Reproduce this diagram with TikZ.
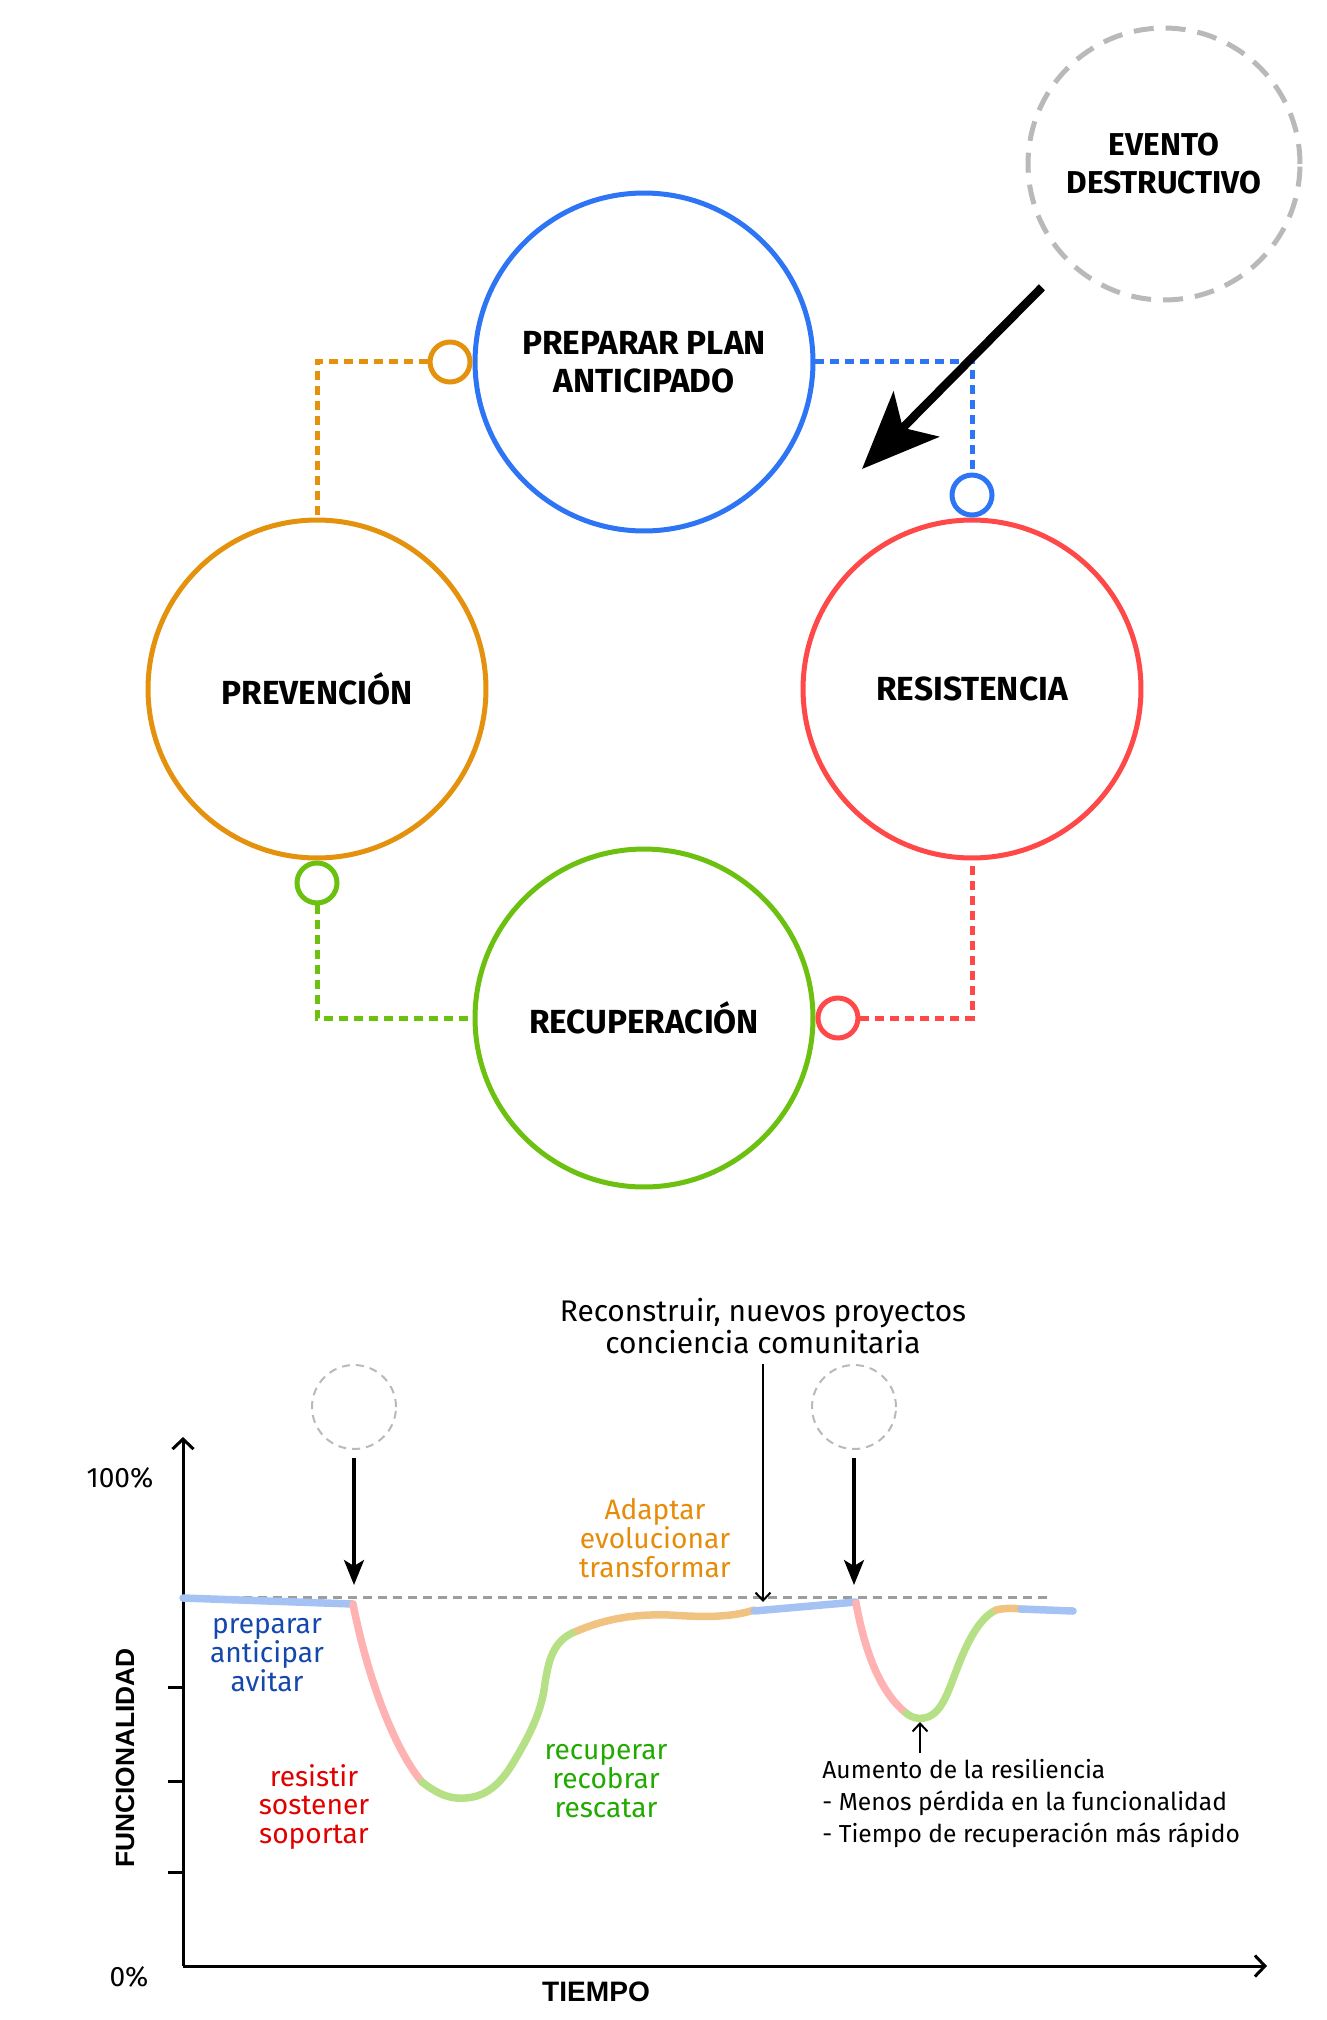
\documentclass[tikz,border=0pt]{standalone}
\usepackage{fontspec}
\setmainfont{Fira Sans}
\newfontfamily\axisfont{Liberation Sans}
\usetikzlibrary{arrows.meta,positioning,calc}

\definecolor{phblue}{RGB}{46,117,245}
\definecolor{phred}{RGB}{255,72,72}
\definecolor{phgreen}{RGB}{108,192,16}
\definecolor{phorange}{RGB}{228,146,14}
\definecolor{ghostgray}{RGB}{185,185,185}
\definecolor{pblue}{RGB}{164,194,244}
\definecolor{pred}{RGB}{255,178,178}
\definecolor{pgreen}{RGB}{182,224,134}
\definecolor{porange}{RGB}{240,196,128}
\definecolor{tblue}{RGB}{21,72,172}
\definecolor{tred}{RGB}{224,0,0}
\definecolor{tgreen}{RGB}{34,170,0}
\definecolor{torange}{RGB}{230,140,10}

\begin{document}
\begin{tikzpicture}[
    x=0.02cm, y=-0.02cm,
    every node/.style={inner sep=0pt},
    phase/.style={circle, draw=#1, line width=0.1cm, minimum size=6.76cm, align=center,
      font=\fontsize{19}{21.6}\selectfont\bfseries},
    knob/.style={circle, draw=#1, line width=0.1cm, minimum size=0.8cm},
    link/.style={#1, line width=0.1cm, dash pattern=on 0.17cm off 0.13cm},
    ghost/.style={circle, draw=ghostgray, line width=0.04cm, dash pattern=on 0.16cm off 0.12cm, minimum size=1.68cm},
    trace/.style={#1, line width=0.15cm, line cap=round},
    tag/.style={align=center, text=#1, font=\fontsize{16}{16.5}\selectfont},
    hit/.style={-{Stealth[length=0.5cm,width=0.4cm,inset=0.12cm]}, line width=0.07cm},
    pointer/.style={-{Straight Barb[length=0.16cm,width=0.3cm]}, line width=0.04cm},
    axis/.style={-{Straight Barb[length=0.2cm,width=0.42cm]}, line width=0.06cm}
  ]
  \useasboundingbox (0,0) rectangle (1326,2020);

  % cycle
  \node[phase=phblue] (prep) at (644,362) {PREPARAR PLAN\\ANTICIPADO};
  \node[phase=phorange] (prev) at (317,689) {PREVENCIÓN};
  \node[phase=phred] (resi) at (972,689) {RESISTENCIA};
  \node[phase=phgreen] (recu) at (644,1018) {RECUPERACIÓN};

  \node[knob=phorange, anchor=east] (ko) at (prep.west) {};
  \node[knob=phblue, anchor=south] (kb) at (resi.north) {};
  \node[knob=phred, anchor=west] (kr) at (recu.east) {};
  \node[knob=phgreen, anchor=north] (kg) at (prev.south) {};

  \draw[link=phorange] (ko.west) -| (prev.north);
  \draw[link=phblue] (prep.east) -| (kb.north);
  \draw[link=phred] (kr.east) -| (resi.south);
  \draw[link=phgreen] (kg.south) |- (recu.west);

  \node[circle, draw=ghostgray, line width=0.1cm, dash pattern=on 0.4cm off 0.24cm,
    minimum size=5.44cm, align=center, font=\fontsize{18}{21.6}\selectfont\bfseries]
    (event) at (1164,164) {EVENTO\\DESTRUCTIVO};
  \coordinate (impact) at (862,469);
  \draw[line width=0.17cm, -{Stealth[length=1.54cm,width=1.28cm,inset=0.38cm]},
    shorten <=0.7cm] (event) -- (impact);

  % chart
  \coordinate (o) at (183,1966);
  \coordinate (ytop) at (183,1437);
  \coordinate (xend) at (1267,1966);
  \draw[axis] (o) -- (ytop);
  \draw[axis] (o) -- (xend);
  \foreach \y in {1687,1781,1872}
    \draw[line width=0.06cm] (168,\y) -- (183,\y);
  \node[font=\fontsize{16}{16}\selectfont] (full) at (120,1478) {100\%};
  \node[font=\fontsize{16}{16}\selectfont] (zero) at (129,1977) {0\%};
  \node[rotate=90, font=\axisfont\bfseries\fontsize{15}{15}\selectfont] (func) at (125,1758) {FUNCIONALIDAD};
  \node[font=\axisfont\bfseries\fontsize{16}{16}\selectfont] (time) at (596,1992) {TIEMPO};

  \draw[ghostgray!85!black, line width=0.06cm, dash pattern=on 0.18cm off 0.12cm] (183,1597) -- (1052,1597);

  \draw[trace=pblue] (183,1598) -- (353,1604);
  \draw[trace=pred] (353,1604) .. controls (368,1680) and (395,1750) .. (422,1782);
  \draw[trace=pgreen] (422,1782) .. controls (440,1796) and (452,1799) .. (465,1798)
    .. controls (485,1797) and (500,1785) .. (513,1763)
    .. controls (528,1738) and (540,1715) .. (544,1690)
    .. controls (548,1662) and (552,1640) .. (577,1631);
  \draw[trace=porange] (577,1631) .. controls (610,1617) and (640,1614) .. (670,1615)
    .. controls (700,1617) and (730,1618) .. (754,1610);
  \draw[trace=pblue] (754,1611) -- (856,1602);
  \draw[trace=pred] (856,1603) .. controls (865,1652) and (880,1692) .. (906,1713);
  \draw[trace=pgreen] (906,1713) .. controls (912,1718) and (918,1719) .. (924,1718)
    .. controls (938,1716) and (945,1700) .. (952,1682)
    .. controls (962,1655) and (975,1620) .. (996,1610);
  \draw[trace=porange] (996,1610) .. controls (1004,1608) and (1013,1608) .. (1021,1609);
  \draw[trace=pblue] (1021,1609) -- (1073,1611);

  \node[ghost] (ev1) at (354,1407) {};
  \node[ghost] (ev2) at (854,1407) {};
  \coordinate (drop1) at (354,1585);
  \coordinate (drop2) at (854,1585);
  \draw[hit, shorten <=0.16cm] (ev1) -- (drop1);
  \draw[hit, shorten <=0.16cm] (ev2) -- (drop2);

  \node[align=center, font=\fontsize{17}{16.3}\selectfont] (rebuild) at (763,1326)
    {Reconstruir, nuevos proyectos\\conciencia comunitaria};
  \coordinate (join) at (763,1602);
  \draw[pointer, shorten <=0.2cm] (rebuild.south) -- (join);

  \node[tag=tblue] (prepare) at (267,1655) {preparar\\anticipar\\avitar};
  \node[tag=tred] (resist) at (314,1807) {resistir\\sostener\\soportar};
  \node[tag=tgreen] (recover) at (606,1781) {recuperar\\recobrar\\rescatar};
  \node[tag=torange] (adapt) at (655,1538) {Adaptar\\evolucionar\\transformar};

  \node[anchor=north west, align=left, font=\fontsize{14}{18.2}\selectfont] (gain) at (822,1759)
    {Aumento de la resiliencia\\- Menos pérdida en la funcionalidad\\- Tiempo de recuperación más rápido};
  \coordinate (trough) at (920,1722);
  \draw[pointer, shorten <=0.12cm] (gain.north -| trough) -- (trough);
\end{tikzpicture}
\end{document}
